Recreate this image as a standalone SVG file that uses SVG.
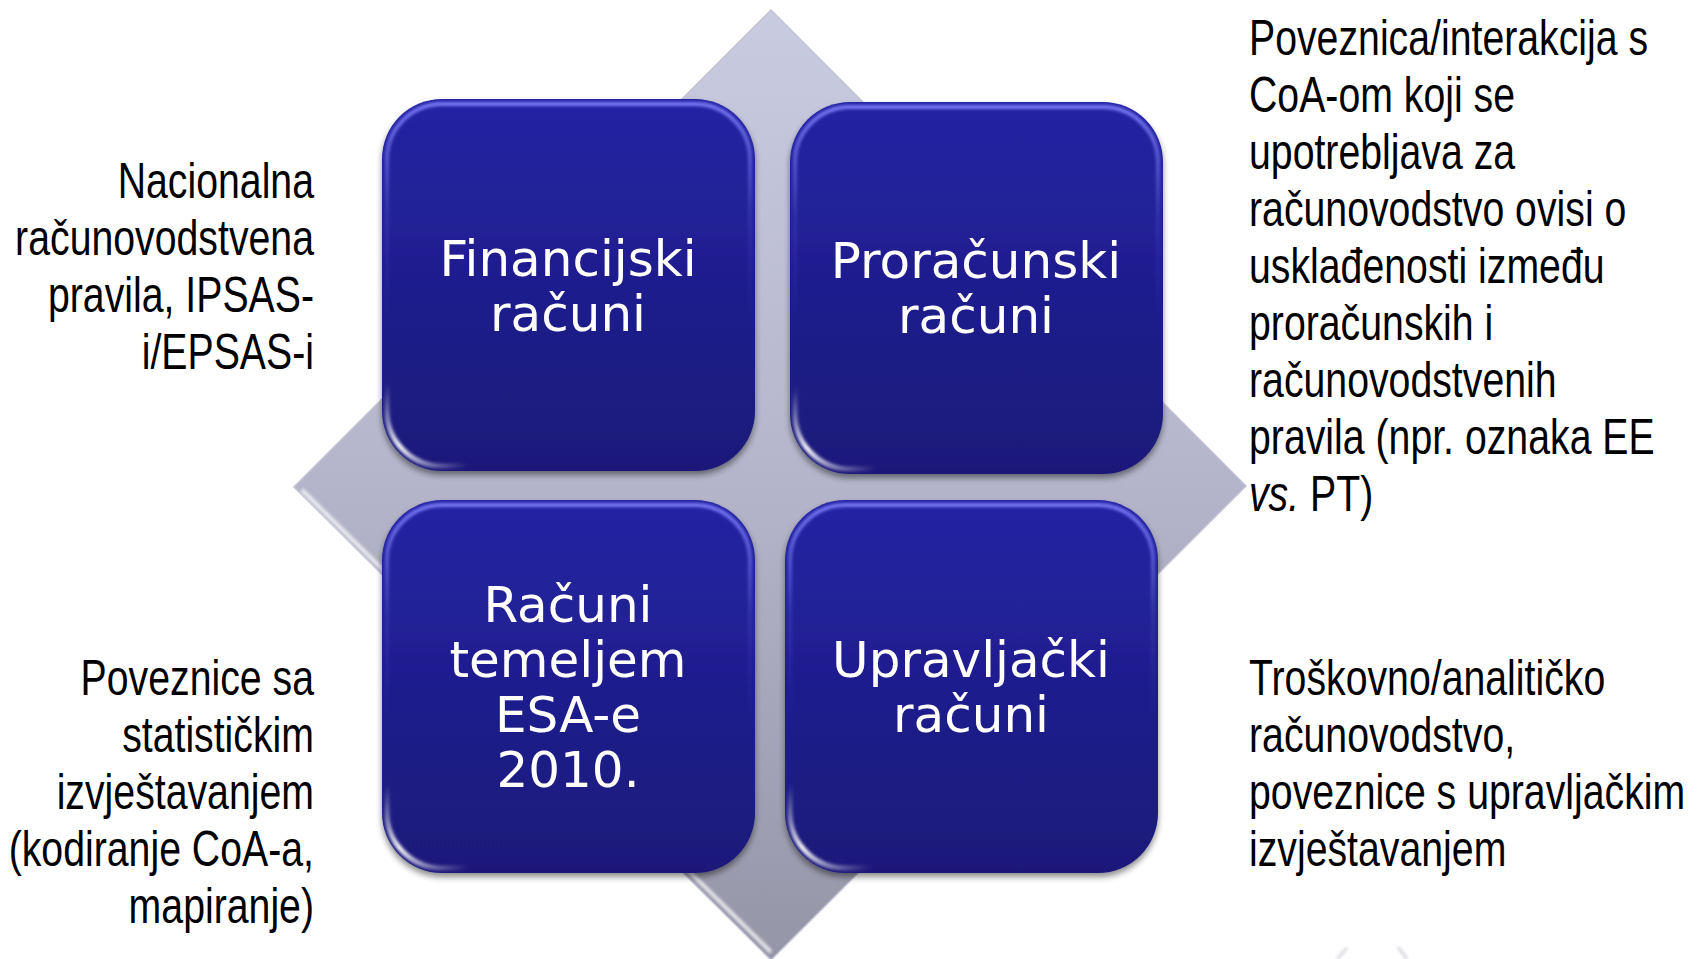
<svg xmlns="http://www.w3.org/2000/svg" width="1704" height="959" viewBox="0 0 1704 959">
<style>
.bt{font-family:"DejaVu Sans",Verdana,sans-serif;font-size:50px;fill:#ffffff;text-anchor:middle}
.st{font-family:"Liberation Sans",Arial,sans-serif;font-size:50px;fill:#000000}
.box{fill:url(#boxg)}
.hl{fill:none;stroke:url(#hlg);stroke-width:4}
.gl{fill:none;stroke:url(#glg);stroke-width:5;stroke-linecap:round}
</style>
<defs>
<linearGradient id="dia" x1="0" y1="0" x2="0" y2="1">
<stop offset="0" stop-color="#c9cbe0"/>
<stop offset="0.5" stop-color="#b4b5ca"/>
<stop offset="1" stop-color="#9595a8"/>
</linearGradient>
<linearGradient id="boxg" x1="0" y1="0" x2="0" y2="1">
<stop offset="0" stop-color="#2424a4"/>
<stop offset="0.5" stop-color="#1f1e8e"/>
<stop offset="1" stop-color="#1a1979"/>
</linearGradient>
<linearGradient id="hlg" x1="0" y1="0" x2="0" y2="1">
<stop offset="0" stop-color="#8484ff" stop-opacity="0.9"/>
<stop offset="0.3" stop-color="#8484ff" stop-opacity="0.15"/>
<stop offset="0.6" stop-color="#8484ff" stop-opacity="0"/>
</linearGradient>
<linearGradient id="glg" x1="0" y1="0" x2="1" y2="1">
<stop offset="0" stop-color="#ffffff" stop-opacity="0"/>
<stop offset="0.45" stop-color="#ffffff" stop-opacity="0.95"/>
<stop offset="1" stop-color="#ffffff" stop-opacity="0"/>
</linearGradient>
<filter id="shadow" x="-10%" y="-10%" width="120%" height="125%">
<feGaussianBlur in="SourceAlpha" stdDeviation="3"/>
<feOffset dx="0" dy="4" result="o"/>
<feComponentTransfer><feFuncA type="linear" slope="0.45"/></feComponentTransfer>
<feMerge><feMergeNode/><feMergeNode in="SourceGraphic"/></feMerge>
</filter>
<filter id="soft" x="-20%" y="-20%" width="140%" height="140%">
<feGaussianBlur stdDeviation="1.5"/>
</filter>
</defs>

<g id="diamond">
<polygon points="771,10 1246,486 771,960 294,487" fill="url(#dia)" stroke="#c2c2d6" stroke-width="1.5"/>
<line x1="302" y1="490" x2="771" y2="952" stroke="#ffffff" stroke-width="4" opacity="0.75" filter="url(#soft)"/>
</g>

<g id="connectors"></g>

<g id="node-financijski" transform="translate(382,99)">
<rect class="box" width="373" height="372" rx="60" filter="url(#shadow)"/>
<rect class="hl" x="5" y="5" width="363" height="362" rx="55" filter="url(#soft)"/>
<path class="gl" d="M5,285 V312 A55 55 0 0 0 60 367 H85" filter="url(#soft)"/>
<text class="bt" x="186" y="177">Financijski</text>
<text class="bt" x="186" y="232">računi</text>
</g>

<g id="node-proracunski" transform="translate(790,102)">
<rect class="box" width="373" height="372" rx="60" filter="url(#shadow)"/>
<rect class="hl" x="5" y="5" width="363" height="362" rx="55" filter="url(#soft)"/>
<path class="gl" d="M5,285 V312 A55 55 0 0 0 60 367 H85" filter="url(#soft)"/>
<text class="bt" x="186" y="176">Proračunski</text>
<text class="bt" x="186" y="231">računi</text>
</g>

<g id="node-esa" transform="translate(382,500)">
<rect class="box" width="373" height="373" rx="60" filter="url(#shadow)"/>
<rect class="hl" x="5" y="5" width="363" height="363" rx="55" filter="url(#soft)"/>
<path class="gl" d="M5,285 V313 A55 55 0 0 0 60 368 H85" filter="url(#soft)"/>
<text class="bt" x="186" y="122">Računi</text>
<text class="bt" x="186" y="177">temeljem</text>
<text class="bt" x="186" y="232">ESA-e</text>
<text class="bt" x="186" y="287">2010.</text>
</g>

<g id="node-upravljacki" transform="translate(785,500)">
<rect class="box" width="373" height="373" rx="60" filter="url(#shadow)"/>
<rect class="hl" x="5" y="5" width="363" height="363" rx="55" filter="url(#soft)"/>
<path class="gl" d="M5,285 V313 A55 55 0 0 0 60 368 H85" filter="url(#soft)"/>
<text class="bt" x="186" y="177">Upravljački</text>
<text class="bt" x="186" y="232">računi</text>
</g>

<g id="text-left-top" transform="translate(314,0) scale(0.785,1)">
<text class="st" text-anchor="end" x="0" y="198">Nacionalna</text>
<text class="st" text-anchor="end" x="0" y="255">računovodstvena</text>
<text class="st" text-anchor="end" x="0" y="312">pravila, IPSAS-</text>
<text class="st" text-anchor="end" x="0" y="369">i/EPSAS-i</text>
</g>

<g id="text-left-bottom" transform="translate(314,0) scale(0.785,1)">
<text class="st" text-anchor="end" x="0" y="695">Poveznice sa</text>
<text class="st" text-anchor="end" x="0" y="752">statističkim</text>
<text class="st" text-anchor="end" x="0" y="809">izvještavanjem</text>
<text class="st" text-anchor="end" x="0" y="866">(kodiranje CoA-a,</text>
<text class="st" text-anchor="end" x="0" y="923">mapiranje)</text>
</g>

<g id="text-right-top" transform="translate(1249,0) scale(0.785,1)">
<text class="st" x="0" y="55">Poveznica/interakcija s</text>
<text class="st" x="0" y="112">CoA-om koji se</text>
<text class="st" x="0" y="169">upotrebljava za</text>
<text class="st" x="0" y="226">računovodstvo ovisi o</text>
<text class="st" x="0" y="283">usklađenosti između</text>
<text class="st" x="0" y="340">proračunskih i</text>
<text class="st" x="0" y="397">računovodstvenih</text>
<text class="st" x="0" y="454">pravila (npr. oznaka EE</text>
<text class="st" x="0" y="511"><tspan font-style="italic">vs.</tspan> PT)</text>
</g>

<g id="text-right-bottom" transform="translate(1249,0) scale(0.785,1)">
<text class="st" x="0" y="695">Troškovno/analitičko</text>
<text class="st" x="0" y="752">računovodstvo,</text>
<text class="st" x="0" y="809">poveznice s upravljačkim</text>
<text class="st" x="0" y="866">izvještavanjem</text>
</g>

<g id="fragment" stroke="#cfcfd8" stroke-width="3" opacity="0.8" filter="url(#soft)">
<line x1="1347" y1="948" x2="1337" y2="959"/>
<line x1="1398" y1="947" x2="1407" y2="959"/>
</g>
</svg>
